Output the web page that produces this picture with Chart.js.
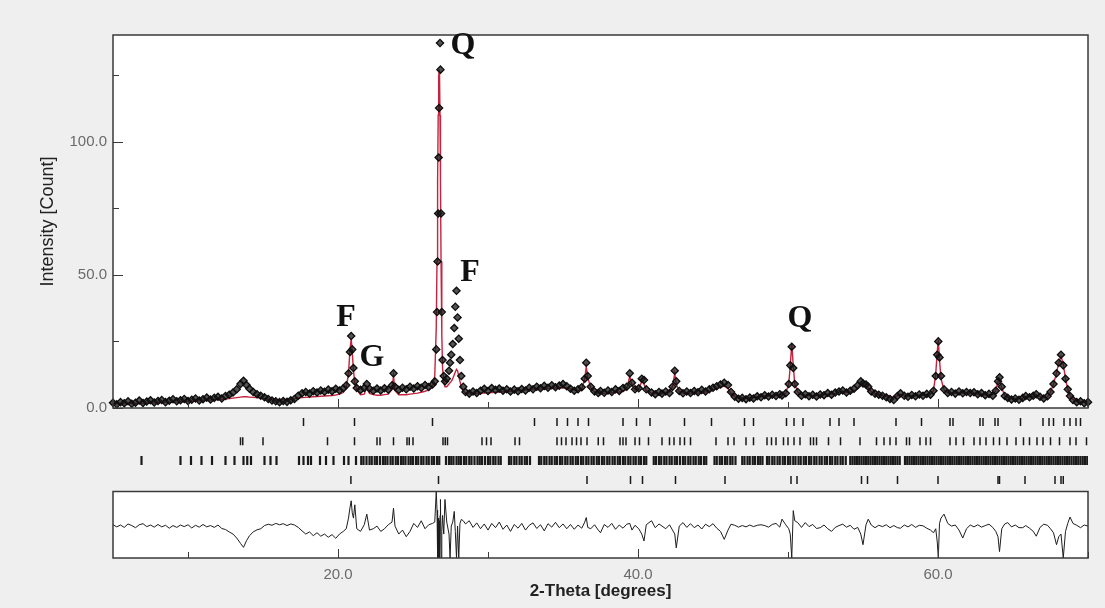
<!DOCTYPE html>
<html>
<head>
<meta charset="utf-8">
<script src="https://cdn.jsdelivr.net/npm/chart.js@4.4.1/dist/chart.umd.min.js"></script>
<style>
  html, body { margin: 0; padding: 0; background: #efefef; overflow: hidden; }
  canvas { display: block; }
</style>
</head>
<body>
<canvas id="xrd" width="1105" height="608"></canvas>
<script>
// 2-theta grid shared by the observed, calculated and difference curves
const twoTheta = [
  5.00, 5.25, 5.50, 5.75, 6.00, 6.25, 6.50, 6.75, 7.00, 7.25,
  7.50, 7.75, 8.00, 8.25, 8.50, 8.75, 9.00, 9.25, 9.50, 9.75,
  10.00, 10.25, 10.50, 10.75, 11.00, 11.25, 11.50, 11.75, 12.00, 12.25,
  12.50, 12.75, 13.00, 13.25, 13.50, 13.70, 13.90, 14.10, 14.35, 14.60,
  14.85, 15.10, 15.35, 15.60, 15.85, 16.10, 16.35, 16.60, 16.85, 17.10,
  17.35, 17.60, 17.85, 18.10, 18.35, 18.60, 18.85, 19.10, 19.35, 19.60,
  19.85, 20.10, 20.35, 20.55, 20.70, 20.80, 20.88, 20.95, 21.03, 21.12,
  21.25, 21.50, 21.75, 21.92, 22.10, 22.35, 22.60, 22.85, 23.10, 23.35,
  23.60, 23.70, 23.80, 24.05, 24.30, 24.55, 24.80, 25.05, 25.30, 25.55,
  25.80, 26.05, 26.30, 26.45, 26.55, 26.60, 26.64, 26.68, 26.71, 26.74,
  26.77, 26.80, 26.83, 26.87, 26.92, 26.97, 27.05, 27.13, 27.25, 27.40,
  27.47, 27.55, 27.65, 27.75, 27.82, 27.90, 27.97, 28.05, 28.13, 28.22,
  28.35, 28.50, 28.75, 29.00, 29.25, 29.50, 29.75, 30.00, 30.25, 30.50,
  30.75, 31.00, 31.25, 31.50, 31.75, 32.00, 32.25, 32.50, 32.75, 33.00,
  33.25, 33.50, 33.75, 34.00, 34.25, 34.50, 34.75, 35.00, 35.25, 35.50,
  35.75, 36.00, 36.25, 36.45, 36.55, 36.65, 36.85, 37.10, 37.35, 37.50,
  37.75, 38.00, 38.25, 38.50, 38.75, 39.00, 39.25, 39.45, 39.60, 39.80,
  40.05, 40.25, 40.40, 40.55, 40.90, 41.15, 41.40, 41.60, 41.85, 42.10,
  42.30, 42.45, 42.55, 42.75, 43.00, 43.25, 43.50, 43.75, 44.00, 44.25,
  44.50, 44.75, 45.00, 45.25, 45.50, 45.75, 46.00, 46.20, 46.45, 46.70,
  46.95, 47.20, 47.45, 47.70, 47.95, 48.20, 48.45, 48.70, 48.95, 49.20,
  49.45, 49.60, 49.85, 50.05, 50.15, 50.25, 50.35, 50.45, 50.65, 50.90,
  51.15, 51.40, 51.65, 51.90, 52.15, 52.40, 52.65, 52.90, 53.15, 53.40,
  53.65, 53.90, 54.15, 54.40, 54.65, 54.85, 55.00, 55.20, 55.35, 55.55,
  55.80, 56.05, 56.30, 56.55, 56.80, 57.05, 57.30, 57.50, 57.75, 58.00,
  58.25, 58.50, 58.75, 59.00, 59.25, 59.50, 59.70, 59.85, 59.95, 60.02,
  60.10, 60.20, 60.40, 60.65, 60.90, 61.15, 61.40, 61.65, 61.90, 62.15,
  62.40, 62.65, 62.90, 63.15, 63.40, 63.65, 63.85, 64.00, 64.10, 64.25,
  64.45, 64.65, 64.90, 65.15, 65.40, 65.65, 65.85, 66.10, 66.35, 66.55,
  66.80, 67.05, 67.30, 67.50, 67.70, 67.90, 68.05, 68.20, 68.35, 68.50,
  68.65, 68.80, 69.00, 69.25, 69.50, 69.75, 70.00
];

const observed = [
  2.0, 1.4, 2.2, 1.8, 2.5, 1.6, 2.0, 2.8, 1.9, 2.4,
  2.9, 2.1, 2.6, 3.0, 2.2, 2.7, 3.3, 2.5, 2.9, 3.4,
  2.6, 3.1, 3.6, 2.8, 3.3, 3.9, 3.2, 3.8, 4.2, 3.6,
  4.5, 5.0, 5.8, 7.0, 9.0, 10.2, 8.6, 7.2, 6.0, 5.2,
  4.6, 4.0, 3.4, 2.8, 2.5, 2.2, 2.6, 2.3, 2.9, 3.4,
  4.6, 5.5, 6.0, 5.4, 6.3, 5.8, 6.6, 6.1, 6.9, 6.3,
  7.2, 6.6, 7.4, 8.5, 13.0, 21.0, 27.0, 22.0, 15.0, 10.0,
  7.5, 6.8, 7.5, 9.0, 7.2, 6.5, 7.3, 6.6, 7.4, 6.9,
  8.5, 13.0, 8.0, 6.8, 7.6, 7.0, 8.0, 7.3, 8.2, 7.6,
  8.6, 7.9, 8.8, 10.0, 22.0, 36.0, 55.0, 73.0, 94.0, 112.6,
  151.0, 137.0, 127.0, 73.0, 36.0, 18.0, 12.0, 10.0, 11.0, 14.0,
  17.0, 20.0, 24.0, 30.0, 38.0, 44.0, 34.0, 26.0, 18.0, 12.0,
  8.0, 6.0, 5.4, 6.2, 5.6, 6.5, 7.2, 6.4, 7.5, 6.8,
  7.3, 6.5, 7.0, 6.2, 6.9, 6.3, 7.1, 6.6, 7.6, 7.0,
  8.0, 7.4, 8.3, 7.6, 8.5, 7.8, 8.4, 9.0, 8.2, 7.2,
  6.5, 7.0, 7.8, 11.0, 17.0, 12.0, 8.0, 6.2, 5.6, 6.4,
  5.7, 6.6, 6.0, 7.0, 6.4, 7.5, 8.0, 13.0, 9.5, 7.0,
  7.4, 11.0, 10.5, 7.0, 5.8, 5.2, 6.0, 5.4, 6.2, 5.6,
  8.0, 14.0, 10.0, 6.4, 5.5, 6.2, 5.6, 6.4, 5.9, 6.8,
  6.2, 7.0, 7.6, 8.2, 8.8, 9.5, 8.6, 6.0, 4.2, 3.5,
  3.8, 3.3, 3.9, 3.6, 4.4, 4.0, 4.8, 4.3, 5.0, 4.5,
  5.2, 4.7, 5.5, 9.0, 16.0, 23.0, 15.0, 9.0, 6.0, 4.6,
  5.2, 4.4, 5.0, 4.3, 5.1, 4.8, 5.6, 5.0, 5.8, 6.2,
  6.6, 5.8, 6.5, 7.2, 8.5, 10.0, 9.2, 8.8, 8.0, 6.2,
  5.4, 5.0, 4.6, 4.0, 3.4, 3.0, 4.5, 5.5, 4.6, 4.2,
  4.9, 4.4, 5.1, 4.6, 5.3, 5.0, 6.5, 12.0, 20.0, 25.0,
  19.0, 12.0, 7.0, 5.6, 6.0, 5.4, 6.2, 5.5, 6.0, 5.6,
  5.9, 5.2, 5.6, 4.8, 5.3, 4.6, 6.5, 10.0, 11.5, 8.0,
  4.5, 3.8, 3.2, 3.6, 3.1, 3.8, 4.5, 4.0, 4.6, 5.2,
  4.2, 3.6, 4.4, 6.0, 9.0, 13.0, 17.0, 20.0, 16.0, 11.0,
  7.0, 4.5, 3.0, 2.2, 2.5, 1.8, 2.2
];

const calculated = [
  1.6, 1.6, 1.6, 1.6, 1.7, 1.7, 1.7, 1.8, 1.8, 1.8,
  1.9, 1.9, 2.0, 2.0, 2.1, 2.1, 2.2, 2.2, 2.3, 2.4,
  2.5, 2.5, 2.6, 2.7, 2.8, 2.9, 3.0, 3.1, 3.2, 3.3,
  3.4, 3.5, 3.7, 3.9, 4.1, 4.2, 4.2, 4.1, 4.0, 3.9,
  3.7, 3.5, 3.3, 3.1, 3.0, 3.0, 3.1, 3.2, 3.3, 3.5,
  3.7, 3.9, 4.0, 4.1, 4.2, 4.3, 4.4, 4.5, 4.6, 4.7,
  4.9, 5.2, 5.8, 7.5, 13.0, 22.0, 26.0, 21.0, 14.0, 9.5,
  7.0, 5.0, 5.2, 8.0, 5.5, 5.0, 4.8, 4.8, 5.0, 5.2,
  7.0, 12.0, 6.5, 5.0, 5.0, 5.0, 5.2, 5.4, 5.6, 5.9,
  6.3, 6.8, 8.0, 12.0, 30.0, 55.0, 85.0, 110.0, 124.0, 127.0,
  124.0, 110.0, 85.0, 55.0, 28.0, 15.0, 10.0, 8.0, 8.0, 9.0,
  9.5, 10.0, 11.0, 12.5, 13.5, 14.5, 14.0, 12.0, 10.0, 8.0,
  6.5, 5.5, 5.2, 5.3, 5.4, 5.5, 5.6, 5.7, 5.8, 5.9,
  6.0, 6.1, 6.2, 6.3, 6.4, 6.5, 6.6, 6.7, 6.8, 6.9,
  7.0, 7.1, 7.2, 7.3, 7.4, 7.5, 7.5, 7.6, 7.5, 7.2,
  6.8, 6.5, 7.0, 11.0, 15.5, 11.5, 7.5, 6.0, 5.6, 5.5,
  5.5, 5.6, 5.7, 5.8, 6.0, 6.3, 7.0, 12.0, 8.5, 6.8,
  7.0, 10.0, 9.0, 6.5, 5.6, 5.4, 5.3, 5.3, 5.5, 6.0,
  8.0, 13.0, 9.0, 6.2, 5.5, 5.4, 5.4, 5.5, 5.6, 5.8,
  6.0, 6.3, 6.7, 7.2, 7.8, 8.2, 7.4, 5.5, 4.3, 3.8,
  3.8, 3.9, 4.0, 4.1, 4.2, 4.3, 4.4, 4.5, 4.6, 4.7,
  4.8, 5.0, 5.6, 9.0, 16.0, 24.0, 16.0, 9.0, 6.0, 5.0,
  4.8, 4.7, 4.7, 4.8, 4.9, 5.0, 5.1, 5.2, 5.4, 5.7,
  6.0, 5.8, 6.0, 6.4, 7.5, 9.0, 8.4, 8.0, 7.5, 6.0,
  5.4, 5.0, 4.7, 4.4, 4.2, 4.1, 4.6, 5.0, 4.8, 4.6,
  4.6, 4.6, 4.7, 4.8, 5.0, 5.3, 6.5, 13.0, 21.0, 25.5,
  18.0, 11.0, 6.8, 5.6, 5.5, 5.5, 5.5, 5.5, 5.5, 5.4,
  5.3, 5.1, 5.0, 4.9, 4.9, 5.0, 6.5, 10.0, 11.0, 7.5,
  4.6, 4.0, 3.7, 3.6, 3.6, 3.7, 4.2, 4.0, 4.3, 4.8,
  4.3, 3.8, 4.2, 6.0, 9.0, 13.0, 17.0, 19.5, 16.5, 11.0,
  7.0, 4.6, 3.2, 2.6, 2.5, 2.4, 2.4
];

const difference = [
  0.5, -0.3, 0.4, -0.5, 0.8, 0.2, -0.6, 0.5, 0.9, -0.2,
  0.4, -0.4, 0.6, -0.3, 0.3, -0.8, 0.2, -0.5, 0.4, -0.2,
  0.5, -0.7, 0.3, -0.4, 0.6, -0.3, 0.2, -0.5, 0.4, -0.9,
  -1.3, -2.2, -3.0, -4.5, -6.5, -8.0, -5.5, -3.6, -2.2, -1.4,
  -1.0, 0.2, 0.7, 0.3, 1.0, 0.5, 0.9, 0.2, 0.8, 0.4,
  -0.5, -1.8, -3.0, -2.2, -3.6, -2.5, -3.8, -3.0, -4.2, -3.2,
  -4.6, -3.0, -2.0, -1.0, 3.0, 7.0, 9.5, 5.0, 3.0, 8.0,
  -1.0, -2.0, 0.5, 4.5, -1.5, -1.0, 0.0, -2.0, -1.0, 0.5,
  1.5, 6.7, 0.0, -3.0, -1.5, -4.0, -2.0, 1.0, -0.5, 2.0,
  -1.0, 0.5, 1.0, 1.5, 13.0, 6.0, -12.0, 3.0, -12.0, 2.0,
  -12.0, 4.0, 10.0, -12.0, -2.0, 4.0, -3.0, 10.0, 1.5, -3.0,
  -12.0, 0.0, 1.5, 5.5, -2.0, -12.0, 0.0, -12.0, 1.0, 2.5,
  2.0, 0.8, 2.0, -0.5, 1.2, -1.0, 0.8, -1.5, 1.0, -0.6,
  1.5, -1.2, 0.4, -2.0, 0.6, -0.8, 1.0, -1.5, 0.3, 1.2,
  -0.9, 0.5, -1.8, 0.9, -0.4, 1.4, -0.6, 0.8, -1.0, 0.6,
  -1.2, 0.4, -0.8, 1.5, 3.2, -0.5, -1.0, 0.5, -1.5, -2.5,
  0.6, -0.5, 1.0, -1.2, 0.4, -0.8, 0.7, 1.0, -1.5, 0.3,
  -1.0, -3.0, -5.6, 0.5, 2.0, -0.6, 0.8, 0.0, -1.0, 0.5,
  -1.5, -3.0, -8.2, 0.0, 1.3, -0.5, 0.9, -0.6, 0.4, -1.1,
  0.7, -0.2, 0.9, -0.8, -2.0, -5.0, -1.5, 0.7, 0.3, -0.4,
  0.2, -0.3, 0.4, -0.2, 0.3, 0.5, 0.2, -0.4, 0.6, 1.0,
  -0.4, 2.6, 0.5, -1.0, -3.0, -12.0, 5.8, 2.0, 1.3, -0.5,
  1.3, -0.2, 0.6, -0.9, -0.6, 0.4, -1.0, -2.0, -0.5, 0.2,
  0.7, -0.4, 0.3, -1.2, -0.5, -3.0, -7.0, 0.5, 2.6, 0.4,
  -0.6, 0.3, -0.2, 0.5, -0.6, 0.2, -0.6, -0.8, 0.4, -0.3,
  0.6, -0.5, 0.3, 0.1, -0.8, -1.5, -2.5, -1.0, -6.0, -12.0,
  1.0, 3.0, 4.5, 1.0, 0.0, 0.4, -1.5, -4.5, -1.0, 0.4,
  -0.3, 0.5, -0.4, 0.2, 0.7, -0.5, -2.0, -4.0, -9.6, -1.0,
  0.8, 1.3, -0.3, 0.4, -0.6, -0.6, 0.2, -0.8, -2.0, -3.8,
  -0.5, 0.7, 0.3, -1.0, -2.5, -7.0, -4.0, -3.0, -12.0, -2.0,
  1.0, 3.4, 1.0, 0.3, -0.6, 0.4, 0.0
];

// reflection positions of the four refined phases (rows of tick marks)
const phase1Ticks = [
  17.7, 21.1, 26.3, 33.1, 34.6, 35.3, 36.0, 36.7, 39.0, 39.9, 40.8, 43.1, 44.9,
  47.1, 47.7, 49.9, 50.4, 51.0, 52.8, 53.4, 54.4, 57.2, 58.9, 60.8, 61.0, 62.8,
  63.0, 63.8, 64.0, 65.5, 67.0, 67.4, 67.7, 68.4, 68.8, 69.2, 69.5
];
const phase2Ticks = [
  13.5, 13.65, 15.0, 19.3, 21.1, 22.6, 22.8, 23.7, 24.6, 24.75, 25.0, 27.0, 27.15,
  27.3, 29.6, 29.9, 30.2, 31.8, 32.1, 34.6, 34.9, 35.2, 35.6, 35.9, 36.2, 36.6,
  37.35, 37.7, 38.8, 39.0, 39.2, 39.8, 40.1, 40.7, 41.6, 42.1, 42.4, 42.8, 43.1,
  43.5, 45.2, 46.0, 46.4, 47.2, 47.7, 48.6, 48.9, 49.2, 49.7, 50.0, 50.4, 50.8,
  51.5, 51.7, 51.9, 52.7, 53.5, 54.8, 55.9, 56.4, 56.8, 57.2, 57.9, 58.1, 58.8,
  59.2, 59.5, 60.8, 61.2, 61.7, 62.4, 62.8, 63.2, 63.7, 64.1, 64.6, 65.2, 65.7,
  66.1, 66.6, 67.0, 67.5, 68.1, 68.8, 69.2, 69.9
];
const phase3Ticks = [
  6.9, 9.5, 10.2, 10.9, 11.6, 12.5, 13.1, 13.7, 13.95, 14.2, 15.1, 15.5, 15.9,
  17.4, 17.7, 18.0, 18.2, 18.8, 19.2, 19.7, 20.4, 20.7, 21.2,
  21.55, 21.7, 21.9, 22.1, 22.25, 22.45, 22.6, 22.8, 23.0, 23.15, 23.3, 23.5,
  23.65, 23.85, 24.0, 24.2, 24.35, 24.5, 24.7, 24.85, 25.0, 25.2, 25.35, 25.55,
  25.7, 25.9, 26.05, 26.25, 26.4, 26.6, 26.75, 27.2, 27.4, 27.55, 27.7, 27.9,
  28.05, 28.2, 28.4, 28.55, 28.75, 28.9, 29.1, 29.3, 29.45, 29.6, 29.8, 30.0,
  30.15, 30.35, 30.5, 30.7, 30.85, 31.4, 31.55, 31.75, 31.9, 32.1, 32.25, 32.45,
  32.6, 32.8, 33.4, 33.55, 33.75, 33.9, 34.1, 34.25, 34.45, 34.6, 34.8, 34.95,
  35.15, 35.3, 35.5, 35.65, 35.85, 36.0, 36.2, 36.35, 36.55, 36.7, 36.9, 37.05,
  37.25, 37.4, 37.6, 37.75, 37.95, 38.1, 38.3, 38.45, 38.65, 38.8, 39.0, 39.15,
  39.35, 39.5, 39.7, 39.85, 40.05, 40.2, 40.4, 40.55, 41.05, 41.2, 41.4, 41.55,
  41.75, 41.9, 42.1, 42.25, 42.45, 42.6, 42.8, 43.0, 43.15, 43.35, 43.5, 43.7,
  43.85, 44.05, 44.2, 44.4, 44.55, 45.1, 45.25, 45.45, 45.6, 45.8, 45.95, 46.15,
  46.3, 46.5, 46.95, 47.1, 47.3, 47.45, 47.65, 47.8, 48.0, 48.15, 48.3, 48.6,
  48.75, 48.95, 49.1, 49.3, 49.45, 49.65, 49.8, 50.0, 50.15, 50.35, 50.5, 50.7,
  50.85, 51.05, 51.2, 51.4, 51.55, 51.75, 51.9, 52.1, 52.25, 52.45, 52.6, 52.8,
  52.95, 53.15, 53.3, 53.5, 53.65, 53.85,
  54.15, 54.3, 54.45, 54.6, 54.75, 54.9, 55.05, 55.2, 55.35, 55.5, 55.65, 55.8,
  55.95, 56.1, 56.25, 56.4, 56.55, 56.7, 56.85, 57.0, 57.15, 57.3, 57.45, 57.8,
  57.95, 58.1, 58.25, 58.4, 58.55, 58.7, 58.85, 59.0, 59.15, 59.3, 59.45, 59.6,
  59.75, 59.9, 60.05, 60.2, 60.35, 60.5, 60.65, 60.8, 60.95, 61.1, 61.25, 61.4,
  61.55, 61.7, 61.85, 62.0, 62.15, 62.3, 62.45, 62.6, 62.75, 62.9, 63.05, 63.2,
  63.35, 63.5, 63.65, 63.8, 63.95, 64.1, 64.25, 64.4, 64.55, 64.7, 64.85, 65.0,
  65.15, 65.3, 65.45, 65.6, 65.75, 65.9, 66.05, 66.2, 66.35, 66.5, 66.65, 66.8,
  66.95, 67.1, 67.25, 67.4, 67.55, 67.7, 67.85, 68.0, 68.15, 68.3, 68.45, 68.6,
  68.75, 68.9, 69.05, 69.2, 69.35, 69.5, 69.65, 69.8, 69.95
];
const phase4Ticks = [
  20.86, 26.7, 36.6, 39.5, 40.3, 42.5, 45.8, 50.2, 50.6, 54.9, 55.3, 57.3,
  60.0, 64.0, 64.1, 65.8, 67.8, 68.2, 68.35
];

// peak annotations (letter, 2-theta, intensity of the text baseline)
const peakLetters = ['F', 'G', 'Q', 'F', 'Q'];
const peakTheta = [20.53, 22.27, 28.33, 28.8, 50.8];
const peakCount = [30.9, 15.9, 132.9, 47.8, 30.5];

const points = (ys) => twoTheta.map((t, i) => ({ x: t, y: ys[i] }));
const tickRow = (list, row) => list.map((t) => ({ x: t, y: row }));

// white panels, frames, inward tick marks and the peak letters
const panelFrames = {
  id: 'panelFrames',
  beforeDraw(chart) {
    const { ctx, chartArea, scales } = chart;
    ctx.save();
    ctx.fillStyle = '#efefef';
    ctx.fillRect(0, 0, chart.width, chart.height);
    ctx.fillStyle = '#ffffff';
    [scales.y, scales.yd].forEach((s) => {
      ctx.fillRect(chartArea.left, s.top, chartArea.right - chartArea.left, s.bottom - s.top);
    });
    ctx.restore();
  },
  afterDraw(chart) {
    const { ctx, chartArea, scales } = chart;
    const { x, y, yd } = scales;
    ctx.save();
    ctx.strokeStyle = '#3a3a3a';
    ctx.lineWidth = 1.5;
    [y, yd].forEach((s) => {
      ctx.strokeRect(chartArea.left, s.top, chartArea.right - chartArea.left, s.bottom - s.top);
    });

    ctx.lineWidth = 1;
    ctx.beginPath();
    y.ticks.forEach((t) => {
      if (t.value % 25 !== 0) return;
      const py = Math.round(y.getPixelForValue(t.value)) + 0.5;
      ctx.moveTo(chartArea.left, py);
      ctx.lineTo(chartArea.left + (t.value % 50 === 0 ? 10 : 6), py);
    });
    x.ticks.forEach((t) => {
      if (t.value % 10 !== 0) return;
      const px = Math.round(x.getPixelForValue(t.value)) + 0.5;
      const len = t.value % 20 === 0 ? 9 : 6;
      [y.bottom, yd.bottom].forEach((b) => {
        ctx.moveTo(px, b);
        ctx.lineTo(px, b - len);
      });
    });
    ctx.stroke();

    ctx.fillStyle = '#111';
    ctx.font = 'bold 32px "Liberation Serif", "Times New Roman", serif';
    ctx.textAlign = 'center';
    ctx.textBaseline = 'alphabetic';
    peakLetters.forEach((letter, i) => {
      ctx.fillText(letter, x.getPixelForValue(peakTheta[i]), y.getPixelForValue(peakCount[i]));
    });
    ctx.restore();
  }
};

Chart.defaults.font.family = '"Liberation Sans", Arial, sans-serif';

const tickRowStyle = {
  type: 'scatter',
  xAxisID: 'x',
  yAxisID: 'yt',
  pointStyle: 'line',
  rotation: 90,
  pointRadius: 4,
  borderColor: '#1a1a1a',
  borderWidth: 1.5,
  showLine: false
};

new Chart(document.getElementById('xrd'), {
  type: 'scatter',
  data: {
    datasets: [
      {
        label: 'Observed',
        data: points(observed),
        xAxisID: 'x',
        yAxisID: 'y',
        showLine: false,
        pointStyle: 'rectRot',
        pointRadius: 3.6,
        borderWidth: 1.3,
        borderColor: '#0d0d0d',
        backgroundColor: 'rgba(25,25,25,0.75)',
        clip: false
      },
      {
        label: 'Calculated',
        data: points(calculated),
        xAxisID: 'x',
        yAxisID: 'y',
        showLine: true,
        pointRadius: 0,
        borderColor: '#c4243e',
        borderWidth: 1.4
      },
      {
        label: 'Difference',
        data: points(difference),
        xAxisID: 'x',
        yAxisID: 'yd',
        showLine: true,
        pointRadius: 0,
        borderColor: '#1e1e1e',
        borderWidth: 1
      },
      { ...tickRowStyle, label: 'Phase 1', data: tickRow(phase1Ticks, 1) },
      { ...tickRowStyle, label: 'Phase 2', data: tickRow(phase2Ticks, 2) },
      { ...tickRowStyle, label: 'Phase 3', data: tickRow(phase3Ticks, 3), borderWidth: 2.2, pointRadius: 4.5 },
      { ...tickRowStyle, label: 'Phase 4', data: tickRow(phase4Ticks, 4) }
    ]
  },
  options: {
    responsive: false,
    maintainAspectRatio: false,
    animation: false,
    events: [],
    layout: { padding: { top: 35, right: 17, left: 0, bottom: 0 } },
    plugins: {
      legend: { display: false },
      tooltip: { enabled: false }
    },
    scales: {
      x: {
        type: 'linear',
        position: 'bottom',
        min: 5,
        max: 70,
        border: { display: false },
        grid: { display: false, drawTicks: false },
        ticks: {
          stepSize: 10,
          autoSkip: false,
          maxRotation: 0,
          padding: 8,
          color: '#6a6a6a',
          font: { size: 15 },
          callback: (v) => (v % 20 === 0 ? v.toFixed(1) : '')
        },
        title: {
          display: true,
          text: '2-Theta [degrees]',
          color: '#222',
          font: { size: 17, weight: 'bold' },
          padding: { top: 0, bottom: 6 }
        },
        afterFit: (scale) => { scale.height = 50; }
      },
      y: {
        type: 'linear',
        position: 'left',
        stack: 'panels',
        stackWeight: 373,
        weight: 3,
        min: 0,
        max: 140,
        border: { display: false },
        grid: { display: false, drawTicks: false },
        ticks: {
          stepSize: 25,
          padding: 6,
          color: '#6a6a6a',
          font: { size: 15 },
          callback: (v) => (v % 50 === 0 ? v.toFixed(1) : '')
        },
        title: {
          display: true,
          text: 'Intensity [Count]',
          color: '#222',
          font: { size: 18 },
          padding: { top: 37, bottom: 0 }
        },
        afterFit: (scale) => { scale.width = 113; }
      },
      yt: {
        type: 'linear',
        position: 'left',
        stack: 'panels',
        stackWeight: 83.5,
        weight: 2,
        min: 0.275,
        max: 4.6,
        reverse: true,
        border: { display: false },
        grid: { display: false, drawTicks: false },
        ticks: { display: false },
        afterFit: (scale) => { scale.width = 113; }
      },
      yd: {
        type: 'linear',
        position: 'left',
        stack: 'panels',
        stackWeight: 66.5,
        weight: 1,
        min: -12,
        max: 13,
        border: { display: false },
        grid: { display: false, drawTicks: false },
        ticks: { display: false },
        afterFit: (scale) => { scale.width = 113; }
      }
    }
  },
  plugins: [panelFrames]
});
</script>
</body>
</html>
